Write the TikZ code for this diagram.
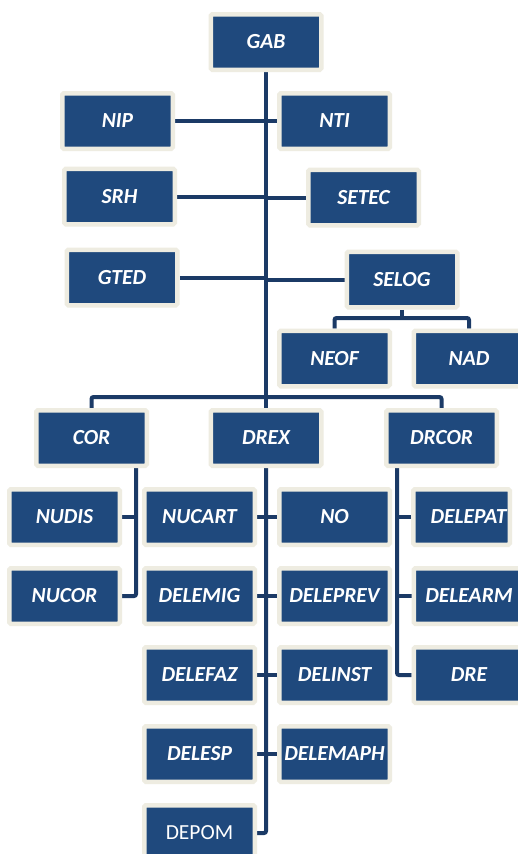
\documentclass[tikz,border=0pt]{standalone}
\usepackage{fontspec}
\setmainfont{Carlito}
\usetikzlibrary{backgrounds}
\definecolor{boxblue}{HTML}{1F497D}
\definecolor{boxrim}{HTML}{EEECE1}
\definecolor{linknavy}{HTML}{1B3A66}
\begin{document}
\begin{tikzpicture}[x=1pt,y=-1pt,
  unit/.style={rectangle, fill=boxblue, draw=boxrim, line width=4.5pt,
    rounded corners=1.5pt, minimum width=110.5pt, minimum height=55.5pt,
    inner sep=0pt, text=white,
    font=\fontsize{21.5}{21.5}\selectfont\bfseries\itshape},
  link/.style={draw=linknavy, line width=4pt},
]
\useasboundingbox (0,0) rectangle (518,854);

\node[unit] (GAB) at (266,42) {GAB};
\node[unit] (NIP) at (117.5,121) {NIP};
\node[unit] (NTI) at (334.5,121) {NTI};
\node[unit] (SRH) at (119.5,196.5) {SRH};
\node[unit] (SETEC) at (363.5,197.5) {SETEC};
\node[unit] (GTED) at (122,277.5) {GTED};
\node[unit] (SELOG) at (402,279.5) {SELOG};
\node[unit] (NEOF) at (334.5,358.5) {NEOF};
\node[unit] (NAD) at (469,358.5) {NAD};
\node[unit] (COR) at (91.5,438) {COR};
\node[unit] (DREX) at (266,438) {DREX};
\node[unit] (DRCOR) at (441.5,438) {DRCOR};
\node[unit] (NUDIS) at (64.5,517) {NUDIS};
\node[unit] (NUCOR) at (64.5,596) {NUCOR};
\node[unit] (NUCART) at (199.5,517) {NUCART};
\node[unit] (NO) at (334.5,517) {NO};
\node[unit] (DELEMIG) at (199.5,596) {DELEMIG};
\node[unit] (DELEPREV) at (334.5,596) {DELEPREV};
\node[unit] (DELEFAZ) at (199.5,675) {DELEFAZ};
\node[unit] (DELINST) at (334.5,675) {DELINST};
\node[unit] (DELESP) at (199.5,754) {DELESP};
\node[unit] (DELEMAPH) at (334.5,754) {DELEMAPH};
\node[unit, font=\fontsize{21.5}{21.5}\selectfont] (DEPOM) at (199.5,833) {DEPOM};
\node[unit, minimum width=96.5pt] (DELEPAT) at (461.5,517) {\hspace*{14pt}DELEPAT};
\node[unit] (DELEARM) at (469,596) {DELEARM};
\node[unit] (DRE) at (469,675) {DRE};

\coordinate (selbus) at (402,318);
\coordinate (bus) at (266,397);
\coordinate (corline) at (136,0);
\coordinate (drline) at (397,0);

\begin{scope}[on background layer]
  \fill[white] (0,0) rectangle (518,854);
  \draw[link] (GAB.south) -- (DREX.north);
  \draw[link] (NIP.east) -- (NIP.east -| GAB.south);
  \draw[link] (NTI.west) -- (NTI.west -| GAB.south);
  \draw[link] (SRH.east) -- (SRH.east -| GAB.south);
  \draw[link] (SETEC.west) -- (SETEC.west -| GAB.south);
  \draw[link] (GTED.east) -- (GTED.east -| GAB.south);
  \draw[link] (SELOG.west) -- (SELOG.west -| GAB.south);
  \draw[link] (SELOG.south) -- (selbus);
  \draw[link, rounded corners=2pt] (NEOF.north) |- (selbus) -| (NAD.north);
  \draw[link, rounded corners=2pt] (COR.north) |- (bus) -| (DRCOR.north);
  \draw[link, rounded corners=2pt] (COR.south -| corline) |- (NUCOR.east);
  \draw[link] (NUDIS.east) -- (NUDIS.east -| corline);
  \draw[link, rounded corners=2pt] (DREX.south) |- (DEPOM.east);
  \draw[link] (NUCART.east) -- (NO.west);
  \draw[link] (DELEMIG.east) -- (DELEPREV.west);
  \draw[link] (DELEFAZ.east) -- (DELINST.west);
  \draw[link] (DELESP.east) -- (DELEMAPH.west);
  \draw[link, rounded corners=2pt] (DRCOR.south -| drline) |- (DRE.west);
  \draw[link] (DELEPAT.west) -- (DELEPAT.west -| drline);
  \draw[link] (DELEARM.west) -- (DELEARM.west -| drline);
\end{scope}
\end{tikzpicture}
\end{document}
